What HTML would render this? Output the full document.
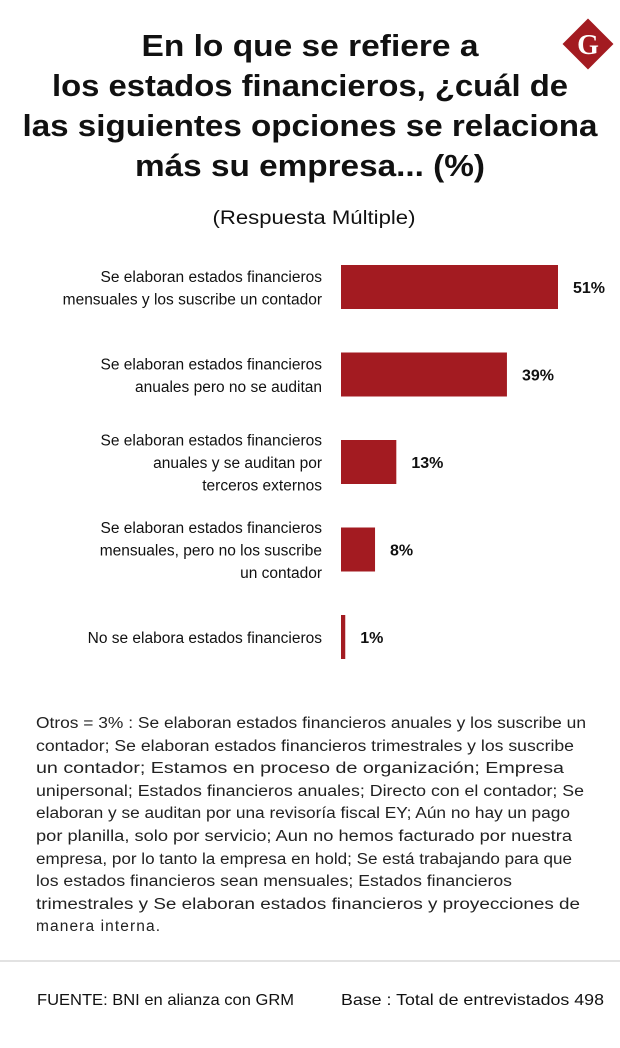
<!DOCTYPE html>
<html><head><meta charset="utf-8"><style>
html,body{margin:0;padding:0;background:#fff;}
svg{display:block;font-family:"Liberation Sans",sans-serif;}
</style></head><body>
<svg id="c" width="620" height="1048" viewBox="0 0 620 1048">
<g font-weight="bold" font-size="31" fill="#111" text-anchor="middle">
<text x="310" y="56" textLength="337" lengthAdjust="spacingAndGlyphs">En lo que se refiere a</text>
<text x="310" y="96" textLength="516" lengthAdjust="spacingAndGlyphs">los estados financieros, ¿cuál de</text>
<text x="310" y="136" textLength="575" lengthAdjust="spacingAndGlyphs">las siguientes opciones se relaciona</text>
<text x="310" y="176" textLength="350" lengthAdjust="spacingAndGlyphs">más su empresa... (%)</text>
</g>
<g>
<rect x="570" y="26" width="36" height="36" fill="#a31b21" transform="rotate(45 588 44)"/>
<text x="588" y="54" text-anchor="middle" font-family="Liberation Serif,serif" font-weight="bold" font-size="28" fill="#fff">G</text>
</g>
<text x="314" y="224" text-anchor="middle" font-size="19" fill="#111" textLength="203" lengthAdjust="spacingAndGlyphs">(Respuesta Múltiple)</text>
<g id="bars"></g>
<g font-size="15.5" fill="#222">
<text x="36" y="728" textLength="550" lengthAdjust="spacingAndGlyphs">Otros = 3% : Se elaboran estados financieros anuales y los suscribe un</text>
<text x="36" y="751" textLength="538" lengthAdjust="spacingAndGlyphs">contador; Se elaboran estados financieros trimestrales y los suscribe</text>
<text x="36" y="773" textLength="528" lengthAdjust="spacingAndGlyphs">un contador; Estamos en proceso de organización; Empresa</text>
<text x="36" y="796" textLength="548" lengthAdjust="spacingAndGlyphs">unipersonal; Estados financieros anuales; Directo con el contador; Se</text>
<text x="36" y="818" textLength="534" lengthAdjust="spacingAndGlyphs">elaboran y se auditan por una revisoría fiscal EY; Aún no hay un pago</text>
<text x="36" y="841" textLength="536" lengthAdjust="spacingAndGlyphs">por planilla, solo por servicio; Aun no hemos facturado por nuestra</text>
<text x="36" y="864" textLength="536" lengthAdjust="spacingAndGlyphs">empresa, por lo tanto la empresa en hold; Se está trabajando para que</text>
<text x="36" y="886" textLength="476" lengthAdjust="spacingAndGlyphs">los estados financieros sean mensuales; Estados financieros</text>
<text x="36" y="909" textLength="544" lengthAdjust="spacingAndGlyphs">trimestrales y Se elaboran estados financieros y proyecciones de</text>
<text x="36" y="931" textLength="124">manera interna.</text>
</g>
<rect x="0" y="960" width="620" height="2" fill="#e2e2e2"/>
<text x="37" y="1005" font-size="16" fill="#111" textLength="257" lengthAdjust="spacingAndGlyphs">FUENTE: BNI en alianza con GRM</text>
<text x="341" y="1005" font-size="16" fill="#111" textLength="263" lengthAdjust="spacingAndGlyphs">Base : Total de entrevistados 498</text>
</svg>
<script>
const categories = [
  ["Se elaboran estados financieros","mensuales y los suscribe un contador"],
  ["Se elaboran estados financieros","anuales pero no se auditan"],
  ["Se elaboran estados financieros","anuales y se auditan por","terceros externos"],
  ["Se elaboran estados financieros","mensuales, pero no los suscribe","un contador"],
  ["No se elabora estados financieros"]
];
const values = [51, 39, 13, 8, 1];
const valueLabels = ["51%","39%","13%","8%","1%"];

const NS = "http://www.w3.org/2000/svg";
const g = document.getElementById("bars");
const x0 = 341, scale = 217/51;
const xScale = v => x0 + v*scale;
const yCenter = i => 287 + i*87.5;
const barH = 44;
function mk(tag, attrs){const e=document.createElementNS(NS,tag);for(const k in attrs)e.setAttribute(k,attrs[k]);return e;}
values.forEach((v,i)=>{
  const cy = yCenter(i);
  const r = mk("rect",{x:x0,y:cy-barH/2,width:Math.max(xScale(v)-x0,3),height:barH,fill:"#a31b21"});
  
  
  g.appendChild(r);
  const t = mk("text",{x:Math.max(xScale(v),x0+3)+15,y:cy+6,"font-size":"16","font-weight":"bold",fill:"#111"});
  t.textContent = valueLabels[i];
  
  
  g.appendChild(t);
  const lines = categories[i];
  const lh = 22.5;
  const start = cy - (lines.length-1)*lh/2 + 6;
  lines.forEach((ln,j)=>{
    const c = mk("text",{x:322,y:start+j*lh,"text-anchor":"end","font-size":"15.5",fill:"#111"});
    c.textContent = ln;
    
    
    g.appendChild(c);
  });
});
</script>
</body></html>
